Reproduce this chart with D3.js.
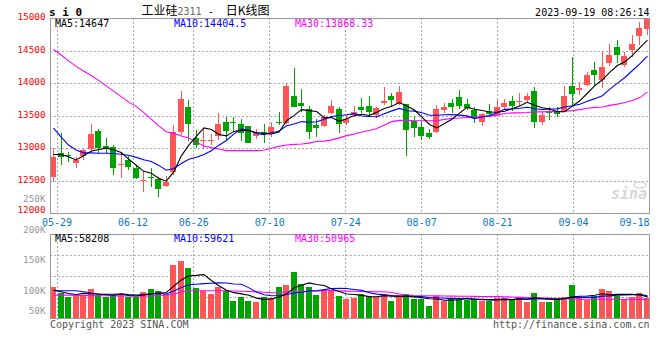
<!DOCTYPE html>
<html><head><meta charset="utf-8">
<script src="https://cdn.jsdelivr.net/npm/d3@7/dist/d3.min.js"></script>
<style>
html,body{margin:0;padding:0;background:#fff;}
svg{display:block;}
text{font-family:"DejaVu Sans Mono","Liberation Mono",monospace;}
</style></head><body>
<svg id="c" width="660" height="360"></svg>
<script>
// ---------- data ----------
const dates = ["05-26","05-29","05-30","05-31","06-01","06-02","06-05","06-06","06-07","06-08",
"06-09","06-12","06-13","06-14","06-15","06-16","06-19","06-20","06-21","06-26",
"06-27","06-28","06-29","06-30","07-03","07-04","07-05","07-06","07-07","07-10",
"07-11","07-12","07-13","07-14","07-17","07-18","07-19","07-20","07-21","07-24",
"07-25","07-26","07-27","07-28","07-31","08-01","08-02","08-03","08-04","08-07",
"08-08","08-09","08-10","08-11","08-14","08-15","08-16","08-17","08-18","08-21",
"08-22","08-23","08-24","08-25","08-28","08-29","08-30","08-31","09-01","09-04",
"09-05","09-06","09-07","09-08","09-11","09-12","09-13","09-14","09-15","09-18"];

const open  = [12565,12925,12890,12780,12885,12990,13265,13035,13020,12750,
12820,12700,12515,12560,12525,12420,12635,13255,13635,13155,
13125,13130,13190,13405,13400,13370,13345,13190,13255,13220,
13410,13395,13805,13700,13600,13360,13350,13540,13600,13395,
13510,13640,13650,13515,13700,13805,13680,13680,13415,13335,
13240,13255,13590,13700,13795,13680,13590,13410,13575,13515,
13640,13730,13705,13740,13880,13410,13565,13565,13570,13960,
13900,13980,14200,14045,14315,14560,14275,14510,14730,14830];
const high  = [13005,13240,12950,12870,12985,13370,13295,13155,13050,12925,
12880,12745,12650,12690,12555,12575,13360,13880,13745,13280,
13290,13220,13540,13485,13485,13445,13345,13290,13370,13400,
13565,14010,14240,13910,13650,13445,13510,13745,13640,13510,
13650,13780,13805,13640,13950,13845,13960,13685,13495,13425,
13290,13660,13690,13760,13895,13755,13630,13540,13675,13750,
13765,13810,13850,13850,13945,13560,13640,13640,13955,14405,
14020,14175,14330,14490,14610,14660,14480,14740,14945,15000];
const low   = [12485,12745,12785,12690,12820,12960,12910,12925,12590,12550,
12665,12525,12330,12400,12255,12405,12590,13205,13110,13005,
12985,13045,13130,13130,13270,13105,13075,13145,13075,13180,
13360,13375,13630,13565,13145,13180,13330,13525,13240,13360,
13485,13550,13480,13460,13665,13640,13665,12880,13170,13130,
13145,13240,13550,13550,13600,13595,13385,13345,13495,13490,
13605,13580,13650,13700,13310,13365,13430,13480,13560,13670,
13815,13960,13960,13930,14260,14315,14250,14405,14585,14745];
const close = [12870,12870,12885,12820,12975,13220,13010,12985,12700,12755,
12715,12540,12520,12555,12370,12485,13255,13755,13375,13050,
13130,13135,13370,13270,13395,13230,13085,13230,13215,13335,
13385,13960,13640,13655,13255,13315,13485,13650,13370,13445,
13565,13590,13555,13615,13730,13750,13870,13280,13315,13190,
13180,13600,13630,13640,13655,13625,13460,13525,13525,13640,
13695,13655,13735,13810,13410,13515,13545,13535,13805,13840,
13930,14125,14125,14250,14430,14440,14415,14610,14850,15000];
const volume = [84000,69000,58000,63000,63000,79000,63000,58000,63000,65000,
58000,58000,72000,79000,75000,65000,145000,156000,136000,81000,
75000,66000,84000,75000,47000,58000,47000,45000,58000,54000,
84000,90000,127000,93000,86000,63000,77000,77000,60000,51000,
56000,66000,60000,58000,66000,47000,63000,66000,51000,51000,
33000,60000,47000,54000,56000,49000,51000,47000,47000,54000,
54000,49000,58000,45000,69000,45000,45000,51000,58000,90000,
54000,49000,60000,79000,75000,60000,52000,58000,69000,54000];

// moving-average values before enough days are in view
const ma5Head  = [12905,12905,12870,12820];
const ma10Head = [13310,13175,13050,12975,12930,12930,12925,12925,12920];
const ma30     = [14520,14435,14345,14260,14190,14120,14045,13960,13880,13795,
13710,13645,13550,13450,13345,13255,13230,13190,13160,13095,
13035,13010,12990,12965,12965,12965,12965,12965,12970,13000,
13030,13050,13060,13065,13080,13105,13110,13130,13160,13195,
13220,13250,13275,13305,13360,13410,13430,13430,13425,13425,
13425,13425,13445,13460,13465,13475,13480,13490,13495,13510,
13535,13545,13545,13550,13560,13560,13565,13565,13570,13580,
13595,13615,13630,13635,13660,13680,13705,13735,13780,13868];
const volMa5Head  = [76700,71700,67100,64300];
const volMa10Head = [74700,74700,74700,74700,72000,68500,65700,63500,61600];
const volMa30 = [63000,62700,62500,62000,61600,61300,61000,60800,60500,60200,
60200,60200,60200,60200,61600,63000,64900,71200,74700,74700,
74700,74700,74700,74700,73900,73300,72600,71500,70500,69300,
69800,71200,72000,72600,73100,73900,74500,74700,74200,73600,
73100,72600,72300,72000,72000,69800,65700,63000,61600,61000,
60800,60500,60200,59900,59600,59400,59100,58900,58900,58500,
58000,57600,57000,56100,55500,54800,54100,53400,52700,52000,
51200,51200,51200,51200,51200,51200,51400,51200,51000,50965];

const priceTicks = [15000,14500,14000,13500,13000,12500,12000];
const volTickLabels = [250000,200000,150000,100000,50000];
const dateTicks = ["05-29","06-12","06-26","07-10","07-24","08-07","08-21","09-04","09-18"];
const priceMaText = ["MA5:14647","MA10:14404.5","MA30:13868.33"];
const volMaText = ["MA5:58208","MA10:59621","MA30:50965"];
const symbol = "s i 0";
const titleParts = ["工业硅","2311"," -  ","日K线图"];
const stamp = "2023-09-19 08:26:14";
const footLeft = "Copyright 2023 SINA.COM";
const footRight = "http://finance.sina.com.cn";

// ---------- layout ----------
const L = 50, R = 649.5;
const mTop = 18.3, mBot = 213.3, vTop = 234, vBot = 318;
const UP = "#ff5555", DN = "#00a400", GRID = "#aaaaaa", BORDER = "#999999";

const svg = d3.select("#c");
const x = d3.scaleBand().domain(dates).range([50, 650]).paddingInner(0.2).paddingOuter(0);
const cx = d => x(d) + x.bandwidth() / 2;
const gx = d3.scalePoint().domain(dates).range([50, 650]);
const y = d3.scaleLinear().domain([12000, 15000]).range([mBot, mTop]);
const vy = d3.scaleLinear().domain([0, 230000]).range([vBot, vTop]);
const vLabel = d3.scaleLinear().domain([100000, 250000]).range([294, 202]);

const data = dates.map((d, i) => ({d, o: open[i], h: high[i], l: low[i], c: close[i], v: volume[i]}));
function movingAvg(vals, n, head) {
  return vals.map((v, i) => i < n - 1 ? head[i] : d3.mean(vals.slice(i - n + 1, i + 1)));
}
const ma5 = movingAvg(close, 5, ma5Head);
const ma10 = movingAvg(close, 10, ma10Head);
const vma5 = movingAvg(volume, 5, volMa5Head);
const vma10 = movingAvg(volume, 10, volMa10Head);

const defs = svg.append("defs");
defs.append("clipPath").attr("id", "cm").append("rect").attr("x", L).attr("y", mTop).attr("width", R - L).attr("height", mBot - mTop);
defs.append("clipPath").attr("id", "cv").append("rect").attr("x", L).attr("y", vTop).attr("width", R - L).attr("height", vBot - vTop);

// grid
const gridG = svg.append("g").attr("stroke", GRID).attr("stroke-dasharray", "2,2").attr("shape-rendering", "crispEdges");
priceTicks.filter(t => t < 15000 && t > 12000).forEach(t => {
  gridG.append("line").attr("x1", L).attr("x2", R).attr("y1", Math.round(y(t)) + 0.5).attr("y2", Math.round(y(t)) + 0.5);
});
[0.25, 0.5, 0.75].forEach(f => {
  const yy = Math.round(vy(vy.domain()[1] * f)) + 0.5;
  gridG.append("line").attr("x1", L).attr("x2", R).attr("y1", yy).attr("y2", yy);
});
dateTicks.slice(0, -1).forEach(d => {
  const xx = Math.round(gx(d)) - 0.5;
  gridG.append("line").attr("x1", xx).attr("x2", xx).attr("y1", mTop).attr("y2", mBot);
  gridG.append("line").attr("x1", xx).attr("x2", xx).attr("y1", vTop).attr("y2", vBot + 4);
});

// candles
const cg = svg.append("g").attr("clip-path", "url(#cm)");
data.forEach(k => {
  const col = k.c >= k.o ? UP : DN;
  const xc = Math.round(cx(k.d)) + 0.5;
  cg.append("line").attr("x1", xc).attr("x2", xc).attr("y1", y(k.h)).attr("y2", y(k.l))
    .attr("stroke", col).attr("stroke-width", 1).attr("shape-rendering", "crispEdges");
  const top = y(Math.max(k.o, k.c)), bot = y(Math.min(k.o, k.c));
  cg.append("rect").attr("x", Math.round(x(k.d))).attr("width", Math.round(x.bandwidth()))
    .attr("y", top).attr("height", Math.max(1, bot - top)).attr("fill", col).attr("shape-rendering", "crispEdges");
});

// price MA lines
const line = (arr, sc) => d3.line().x((v, i) => cx(dates[i]) + 0.5).y(v => sc(v))(arr);
[[ma30, "#ff00ff"], [ma10, "#0000ff"], [ma5, "#000000"]].forEach(([arr, col]) => {
  cg.append("path").attr("d", line(arr, y)).attr("fill", "none").attr("stroke", col).attr("stroke-width", 1.1);
});

// volume
const vg = svg.append("g").attr("clip-path", "url(#cv)");
data.forEach(k => {
  const col = k.c >= k.o ? UP : DN;
  vg.append("rect").attr("x", Math.round(x(k.d))).attr("width", Math.round(x.bandwidth()))
    .attr("y", vy(k.v)).attr("height", vBot - vy(k.v)).attr("fill", col).attr("shape-rendering", "crispEdges");
});
[[volMa30, "#ff00ff"], [vma10, "#0000ff"], [vma5, "#000000"]].forEach(([arr, col]) => {
  vg.append("path").attr("d", line(arr, vy)).attr("fill", "none").attr("stroke", col).attr("stroke-width", 1.1);
});

// borders
[[mTop, mBot], [vTop, vBot]].forEach(([t, b]) => {
  svg.append("rect").attr("x", L + 0.5).attr("y", Math.round(t) + 0.5).attr("width", R - L - 1)
    .attr("height", Math.round(b) - Math.round(t)).attr("fill", "none").attr("stroke", BORDER)
    .attr("shape-rendering", "crispEdges");
});

// axis labels
priceTicks.forEach(t => {
  svg.append("text").attr("x", 45.5).attr("y", Math.min(y(t) + 1.8, 213) ).attr("text-anchor", "end")
    .attr("font-size", 9.3).attr("fill", "#ff0000").text(t);
});
volTickLabels.forEach(v => {
  svg.append("text").attr("x", 45.5).attr("y", Math.min(vLabel(v), 314)).attr("text-anchor", "end")
    .attr("font-size", 9.3).attr("fill", "#999999").text(d3.format("d")(v / 1000) + "K");
});
dateTicks.forEach((d, i) => {
  const last = i === dateTicks.length - 1;
  svg.append("text").attr("x", last ? R : gx(d) - 0.5).attr("y", 225.5)
    .attr("text-anchor", last ? "end" : "middle").attr("font-size", 10).attr("fill", "#0a78c8").text(d);
});

// MA legends
const maCols = ["#000000", "#0000ff", "#ff00ff"];
const maX = [55, 174, 295];
priceMaText.forEach((t, i) => svg.append("text").attr("x", maX[i]).attr("y", 27).attr("font-size", 10).attr("fill", maCols[i]).text(t));
volMaText.forEach((t, i) => svg.append("text").attr("x", maX[i]).attr("y", 242).attr("font-size", 10).attr("fill", maCols[i]).text(t));

// header
svg.append("text").attr("x", 49).attr("y", 15.5).attr("font-size", 11).attr("font-weight", "bold").attr("fill", "#000").text(symbol);
const tt = svg.append("text").attr("x", 141.5).attr("y", 15).attr("font-size", 12).attr("fill", "#000");
tt.append("tspan").attr("font-family", "'Noto Sans CJK SC'").text(titleParts[0]);
tt.append("tspan").attr("font-size", 10).attr("fill", "#666").text(titleParts[1]);
tt.append("tspan").attr("font-size", 10).attr("xml:space", "preserve").style("white-space", "pre").text(titleParts[2]);
tt.append("tspan").attr("font-family", "'Noto Sans CJK SC'").text(titleParts[3]);
svg.append("text").attr("x", R).attr("y", 15.5).attr("text-anchor", "end").attr("font-size", 10).attr("fill", "#000").text(stamp);

// footer
svg.append("text").attr("x", 50).attr("y", 327.5).attr("font-size", 10).attr("fill", "#555").text(footLeft);
svg.append("text").attr("x", R).attr("y", 327.5).attr("text-anchor", "end").attr("font-size", 10).attr("fill", "#555").text(footRight);

// watermark
svg.append("text").attr("x", 647).attr("y", 199).attr("text-anchor", "end").attr("font-family", "'DejaVu Sans'")
  .attr("font-size", 15).attr("font-style", "italic").attr("font-weight", "bold").attr("fill", "#d6d6d6").text("sina");
svg.append("ellipse").attr("cx", 640).attr("cy", 185).attr("rx", 6).attr("ry", 3).attr("fill", "none").attr("stroke", "#d6d6d6").attr("stroke-width", 1.5);
</script>
</body></html>
